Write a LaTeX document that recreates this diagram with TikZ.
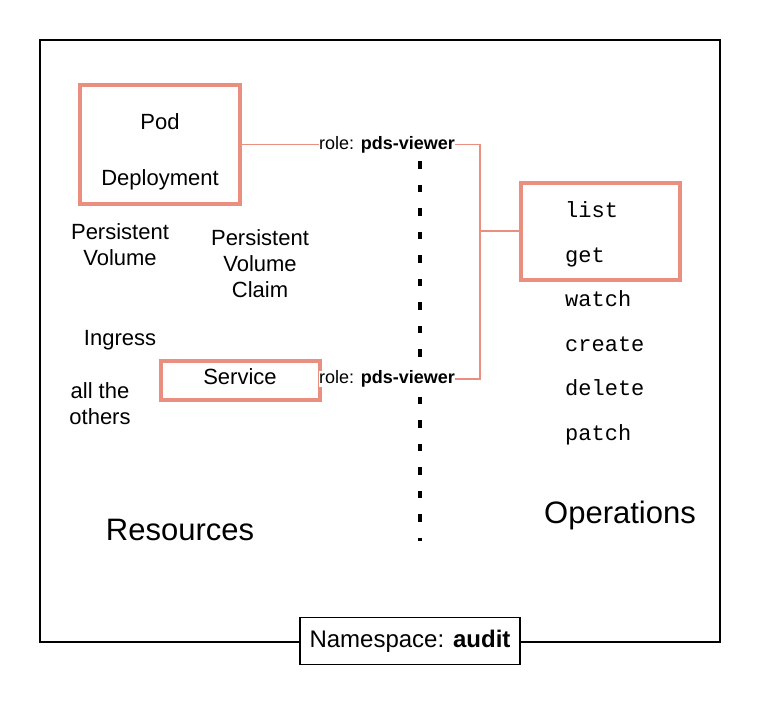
\documentclass[tikz,border=0pt]{standalone}
\usepackage{fontspec}
\setmainfont{Liberation Sans}
\setmonofont{Liberation Mono}
\definecolor{salmon}{RGB}{234,142,128}
\begin{document}
\begin{tikzpicture}[x=1pt,y=-1pt,
  res/.style={font=\fontsize{22}{26}\selectfont, align=center, inner sep=0pt},
  big/.style={font=\fontsize{31}{36}\selectfont, inner sep=0pt},
  op/.style={font=\ttfamily\fontsize{22}{26}\selectfont, inner sep=0pt, anchor=base west},
  rolelbl/.style={font=\fontsize{18}{20}\selectfont, inner sep=0pt, fill=white},
  redbox/.style={draw=salmon, line width=4pt},
  conn/.style={draw=salmon, line width=1.8pt}
]
\useasboundingbox (0,0) rectangle (780,705);
% frame
\draw[line width=1.5pt] (40,40) rectangle (720,642);
% dotted separator
\coordinate (dtop) at (420,161);
\coordinate (dbot) at (420,541);
\draw[line width=4.5pt, dash pattern=on 7.5pt off 16.06pt] (dtop) -- (dbot);
% boxes
\node[redbox, minimum width=160pt, minimum height=119pt, inner sep=0pt] (pod) at (160,144.5) {};
\node[redbox, minimum width=159pt, minimum height=39pt, inner sep=0pt] (svc) at (240,380) {};
\node[redbox, minimum width=159pt, minimum height=97pt, inner sep=0pt] (ops) at (600,231) {};
% resource texts
\node[res, anchor=base] (podt) at (160,129) {Pod};
\node[res, anchor=base] (dept) at (160,185) {Deployment};
\node[res, anchor=base] (svct) at (240,384) {Service};
\node[res] (pv) at (120,245) {Persistent\\Volume};
\node[res] (pvc) at (260,264) {Persistent\\Volume\\Claim};
\node[res, anchor=base] (ing) at (120,345) {Ingress};
\node[res] (oth) at (100,404) {all the\\others};
\node[big, anchor=base] (resl) at (180,540) {Resources};
\node[big, anchor=base] (opsl) at (620,523) {Operations};
% operations
\node[op] (list) at (565,217) {list};
\node[op] (get) at (565,262) {get};
\node[op] (watch) at (565,306) {watch};
\node[op] (create) at (565,351) {create};
\node[op] (delete) at (565,395) {delete};
\node[op] (patch) at (565,440) {patch};
% role labels
\node[rolelbl] (role1) at (387,144.5) {role: \textbf{pds-viewer}};
\node[rolelbl] (role2) at (387,379) {role: \textbf{pds-viewer}};
% connectors
\coordinate (j1) at (480,144.5);
\coordinate (j2) at (480,379);
\coordinate (jm) at (480,231);
\draw[conn] (pod.east) -- (role1.west);
\draw[conn] (role1.east) -- (j1) -- (j2) -- (role2.east);
\draw[conn] (jm) -- (ops.west);
% namespace
\node[draw, line width=1.5pt, fill=white, minimum width=220pt, minimum height=47pt, inner sep=0pt,
  font=\fontsize{24}{28}\selectfont] (ns) at (410,641) {Namespace: \textbf{audit}};
\end{tikzpicture}
\end{document}
